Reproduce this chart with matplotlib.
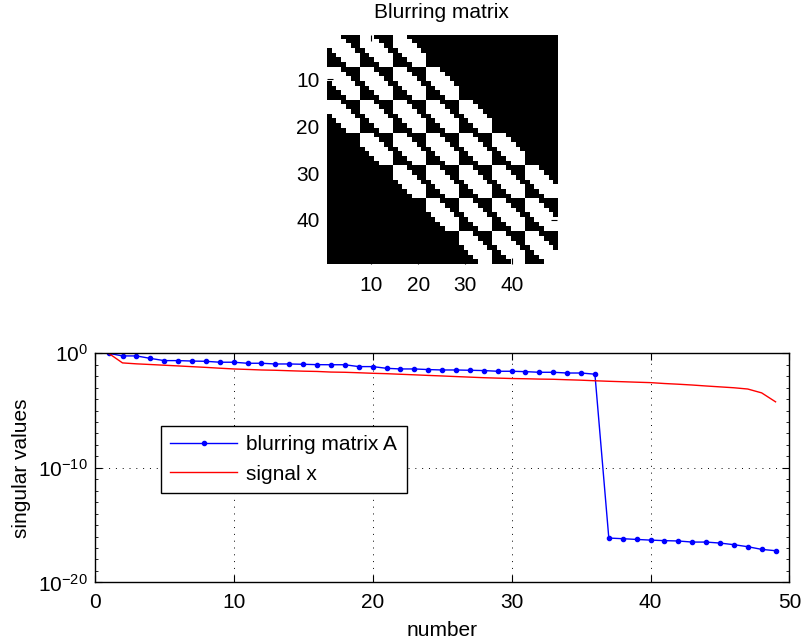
import numpy as np
import matplotlib
matplotlib.use("Agg")
import matplotlib.pyplot as plt
from matplotlib.ticker import FixedLocator, LogFormatterSciNotation, NullFormatter

plt.rcParams["font.family"] = "sans-serif"
plt.rcParams["font.sans-serif"] = ["Liberation Sans", "Arial", "DejaVu Sans"]
plt.rcParams["mathtext.fontset"] = "custom"
plt.rcParams["mathtext.rm"] = "Liberation Sans"
plt.rcParams["mathtext.it"] = "Liberation Sans:italic"
plt.rcParams["axes.unicode_minus"] = True

FS = 15

# band pattern of the 7x7 Toeplitz factor (nonzero where |i-j| <= 2)
band_pattern = [
    "1110000",
    "1111000",
    "1111100",
    "0111110",
    "0011111",
    "0001111",
    "0000111",
]

# singular values, index 1..49
index = list(range(1, 50))
sv_blur = [
    1.0, 5.9e-1, 5.9e-1, 3.6e-1, 2.3e-1, 2.3e-1, 2.1e-1, 2.0e-1, 1.66e-1, 1.66e-1,
    1.35e-1, 1.35e-1, 1.17e-1, 1.17e-1, 1.10e-1, 1.02e-1, 1.0e-1, 1.0e-1, 6.9e-2, 6.9e-2,
    4.9e-2, 4.3e-2, 4.3e-2, 3.8e-2, 3.5e-2, 3.5e-2, 3.3e-2, 3.1e-2, 2.7e-2, 2.7e-2,
    2.5e-2, 2.2e-2, 2.2e-2, 1.9e-2, 1.9e-2, 1.5e-2, 7.4e-17, 6.5e-17, 5.6e-17, 4.9e-17,
    4.4e-17, 4.1e-17, 3.3e-17, 3.3e-17, 2.7e-17, 1.95e-17, 1.3e-17, 7.6e-18, 5.8e-18,
]
sv_signal = [
    1.0, 1.45e-1, 1.2e-1, 1.05e-1, 9.1e-2, 7.9e-2, 6.8e-2, 5.9e-2, 5.0e-2, 4.3e-2,
    3.9e-2, 3.5e-2, 3.3e-2, 3.0e-2, 2.75e-2, 2.6e-2, 2.3e-2, 2.2e-2, 2.0e-2, 1.8e-2,
    1.66e-2, 1.48e-2, 1.32e-2, 1.17e-2, 1.05e-2, 9.3e-3, 8.3e-3, 7.4e-3, 6.8e-3, 6.3e-3,
    6.0e-3, 5.6e-3, 5.4e-3, 4.9e-3, 4.5e-3, 4.0e-3, 3.6e-3, 3.3e-3, 3.0e-3, 2.75e-3,
    2.3e-3, 2.0e-3, 1.7e-3, 1.4e-3, 1.17e-3, 9.8e-4, 7.6e-4, 3.5e-4, 5.8e-5,
]

T = np.array([[int(c) for c in row] for row in band_pattern])
A = np.kron(T, T)
n = A.shape[0]

fig = plt.figure(figsize=(8.04, 6.44), dpi=100, facecolor="white")

# --- blurring matrix (nonzero pattern)
ax1 = fig.add_axes([0.4061, 0.5893, 0.2867, 0.3564])
ax1.imshow(A > 0, cmap="gray", vmin=0, vmax=1, interpolation="nearest",
           extent=(0.5, n + 0.5, n + 0.5, 0.5), aspect="auto")
ax1.set_xticks([10, 20, 30, 40])
ax1.set_yticks([10, 20, 30, 40])
ax1.tick_params(direction="in", length=4, labelsize=FS, top=True, right=True)
ax1.tick_params(axis="x", pad=8)
ax1.tick_params(axis="y", pad=5)
ax1.set_title("Blurring matrix", fontsize=FS, pad=12)
for s in ax1.spines.values():
    s.set_visible(False)

# --- singular value decay
ax2 = fig.add_axes([0.1178, 0.0957, 0.8641, 0.3557])
ax2.semilogy(index, sv_blur, "b.-", lw=1.0, ms=6, label="blurring matrix A")
ax2.semilogy(index, sv_signal, "r-", lw=1.0, label="signal x")
ax2.set_xlim(0, 50)
ax2.set_ylim(1e-20, 1e0)
ax2.set_xticks([0, 10, 20, 30, 40, 50])
ax2.yaxis.set_major_locator(FixedLocator([1e-20, 1e-10, 1e0]))
ax2.yaxis.set_major_formatter(LogFormatterSciNotation())
ax2.yaxis.set_minor_locator(FixedLocator([10.0 ** k for k in range(-20, 1)]))
ax2.yaxis.set_minor_formatter(NullFormatter())
ax2.grid(True, which="major", linestyle=(0, (1, 6)), color="black", lw=0.7)
ax2.tick_params(which="major", direction="in", length=5, labelsize=FS,
                top=True, right=True)
ax2.tick_params(axis="x", which="major", pad=8)
ax2.tick_params(axis="y", which="major", pad=5)
ax2.tick_params(which="minor", direction="in", length=2.5, top=True, right=True)
for s in ax2.spines.values():
    s.set_linewidth(1.0)
ax2.set_xlabel("number", fontsize=FS, labelpad=6)
ax2.set_ylabel("singular values", fontsize=FS, labelpad=5)

leg = ax2.legend(loc="upper left", bbox_to_anchor=(0.0954, 0.683), fontsize=FS,
                 fancybox=False, edgecolor="black", framealpha=1, borderaxespad=0,
                 handlelength=3.2, borderpad=0.45, labelspacing=0.5,
                 handletextpad=0.45)
leg.get_frame().set_linewidth(1.0)

fig.savefig("out.png", dpi=100, facecolor="white")
